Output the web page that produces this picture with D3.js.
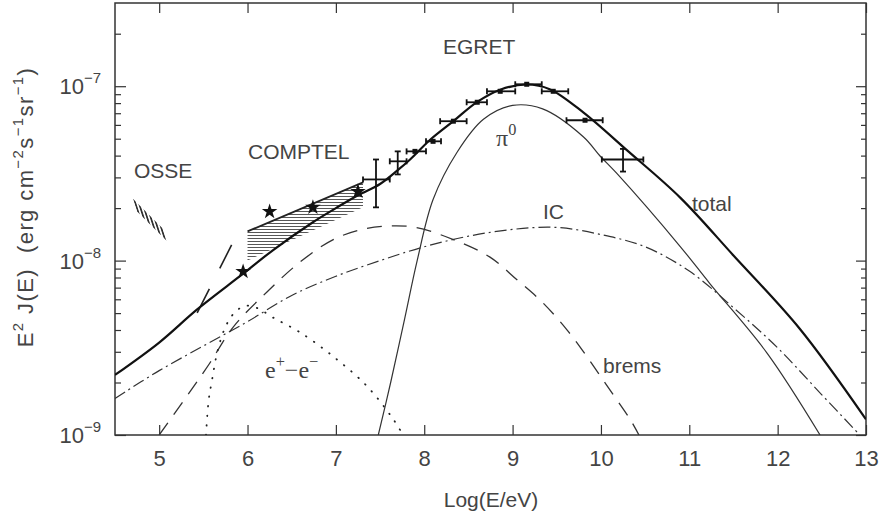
<!DOCTYPE html>
<html>
<head>
<meta charset="utf-8">
<script src="https://cdn.jsdelivr.net/npm/d3@7"></script>
<style>
body { margin: 0; background: #fff; }
svg { font-family: "Liberation Sans", Arial, sans-serif; }
.lbl { fill: #444; }
.tick text { fill: #444; }
</style>
</head>
<body>
<svg id="chart" width="882" height="520"></svg>
<script>
// model curves: [log10(E/eV), E^2 J(E)]
var totalCurve = [
  [4.5, 2.21e-9], [5.0, 3.39e-9], [5.43, 5.25e-9], [5.95, 8.41e-9], [6.29, 1.15e-8],
  [6.74, 1.66e-8], [7.0, 2.0e-8], [7.25, 2.37e-8], [7.5, 2.75e-8], [7.7, 3.3e-8],
  [7.84, 3.8e-8], [8.07, 4.95e-8], [8.33, 6.31e-8], [8.6, 8.13e-8], [8.86, 9.55e-8],
  [9.16, 1.023e-7], [9.42, 9.62e-8], [9.8, 7.08e-8], [10.3, 4.27e-8], [10.9, 2.29e-8],
  [11.5, 1.07e-8], [12.25, 4.07e-9], [13.0, 1.23e-9]
];
var pi0Curve = [
  [7.48, 1.0e-9], [7.62, 2.0e-9], [7.78, 4.68e-9], [7.92, 1.0e-8], [8.1, 2.24e-8],
  [8.37, 4.17e-8], [8.67, 6.46e-8], [9.0, 7.76e-8], [9.34, 7.41e-8], [9.8, 5.13e-8],
  [9.99, 3.98e-8], [10.18, 3.16e-8], [10.9, 1.2e-8], [11.23, 7.41e-9], [11.88, 2.95e-9],
  [12.48, 1.0e-9]
];
var icCurve = [
  [4.5, 1.62e-9], [5.0, 2.34e-9], [5.5, 3.24e-9], [6.0, 4.47e-9], [6.5, 6.31e-9],
  [7.0, 8.13e-9], [7.5, 1.0e-8], [8.0, 1.2e-8], [8.5, 1.38e-8], [9.0, 1.51e-8],
  [9.5, 1.55e-8], [10.0, 1.41e-8], [10.5, 1.2e-8], [11.0, 8.71e-9], [11.5, 5.37e-9],
  [12.0, 3.16e-9], [12.5, 1.7e-9], [12.93, 1.0e-9]
];
var bremsCurve = [
  [5.0, 1.0e-9], [5.31, 1.66e-9], [5.57, 2.57e-9], [5.84, 4.17e-9], [6.22, 6.61e-9],
  [6.59, 9.77e-9], [6.97, 1.32e-8], [7.3, 1.51e-8], [7.6, 1.58e-8], [7.9, 1.55e-8],
  [8.33, 1.32e-8], [8.74, 1.05e-8], [9.05, 7.76e-9], [9.34, 5.75e-9], [9.62, 3.98e-9],
  [9.84, 2.82e-9], [10.07, 1.91e-9], [10.33, 1.23e-9], [10.43, 1.0e-9]
];
var pairCurve = [
  [5.53, 1.0e-9], [5.56, 1.58e-9], [5.6, 2.09e-9], [5.66, 3.02e-9], [5.75, 4.17e-9],
  [5.85, 5.01e-9], [5.97, 5.5e-9], [6.1, 5.37e-9], [6.3, 4.68e-9], [6.59, 3.89e-9],
  [6.97, 2.82e-9], [7.35, 1.91e-9], [7.65, 1.23e-9], [7.76, 1.0e-9]
];
var longDash = [[5.43, 5.01e-9], [5.82, 1.23e-8]];

// instrument bands
var comptelUpper = [[6.0, 1.47e-8], [7.307, 2.81e-8]];
var comptelLower = [[6.0, 1.0e-8], [7.307, 2.02e-8]];
var osseUpper = [[4.70, 2.27e-8], [5.04, 1.53e-8]];
var osseLower = [[4.75, 1.91e-8], [5.09, 1.29e-8]];

// star points
var starE = [5.95, 6.25, 6.74, 7.25];
var starF = [8.65e-9, 1.91e-8, 2.02e-8, 2.49e-8];

// EGRET points
var egretE   = [7.454, 7.70, 7.895, 8.10, 8.33, 8.60, 8.86, 9.16, 9.46, 9.82, 10.25];
var egretELo = [7.307, 7.61, 7.80, 8.02, 8.18, 8.48, 8.71, 9.03, 9.33, 9.61, 10.01];
var egretEHi = [7.61, 7.80, 8.02, 8.19, 8.48, 8.71, 9.03, 9.33, 9.63, 10.02, 10.48];
var egretF   = [2.92e-8, 3.71e-8, 4.23e-8, 4.83e-8, 6.30e-8, 8.09e-8, 9.35e-8, 1.026e-7, 9.35e-8, 6.38e-8, 3.80e-8];
var egretFLo = [2.02e-8, 3.12e-8, null, null, null, null, null, null, null, null, 3.24e-8];
var egretFHi = [3.80e-8, 4.23e-8, null, null, null, null, null, null, null, null, 4.37e-8];

var xTicks = [5, 6, 7, 8, 9, 10, 11, 12, 13];
var yMajor = [1e-9, 1e-8, 1e-7];
var yExp = ["\u22129", "\u22128", "\u22127"];

var margin = {top: 3, right: 16, bottom: 85, left: 115};
var width = 882 - margin.left - margin.right;
var height = 520 - margin.top - margin.bottom;

var svg = d3.select("#chart");
var g = svg.append("g")
    .attr("transform", "translate(" + margin.left + "," + margin.top + ")");

var x = d3.scaleLinear().domain([4.5, 13]).range([0, width]);
var y = d3.scaleLog().domain([1e-9, 3e-7]).range([height, 0]);

var yMinor = [];
[1e-9, 1e-8, 1e-7].forEach(function(p) {
  for (var k = 2; k <= 9; k++) if (k * p < 3e-7) yMinor.push(k * p);
});

var defs = svg.append("defs");
defs.append("clipPath").attr("id", "plotclip")
  .append("rect").attr("width", width).attr("height", height);
var hp = defs.append("pattern").attr("id", "hatchH")
    .attr("patternUnits", "userSpaceOnUse").attr("width", 6).attr("height", 3);
hp.append("line").attr("x1", 0).attr("x2", 6).attr("y1", 1.5).attr("y2", 1.5)
    .attr("stroke", "#444").attr("stroke-width", 0.9);
var vp = defs.append("pattern").attr("id", "hatchV")
    .attr("patternUnits", "userSpaceOnUse").attr("width", 3.4).attr("height", 6)
    .attr("patternTransform", "rotate(-18)");
vp.append("line").attr("x1", 1.7).attr("x2", 1.7).attr("y1", 0).attr("y2", 6)
    .attr("stroke", "#222").attr("stroke-width", 1.6);

// axes (ticks inside the frame)
function noLabels(a) { return a.tickFormat(""); }
g.append("g").attr("class", "axis")
  .attr("transform", "translate(0," + height + ")")
  .call(d3.axisBottom(x).tickValues(xTicks).tickSizeInner(-10).tickSizeOuter(0).tickPadding(15)
        .tickFormat(d3.format("d")))
  .call(function(s) {
    s.selectAll("text").attr("font-size", 22).attr("font-family", "Liberation Sans, Arial, sans-serif");
  });
g.append("g").call(noLabels(d3.axisTop(x).tickValues(xTicks).tickSizeInner(-10).tickSizeOuter(0)));
g.append("g").call(noLabels(d3.axisLeft(y).tickValues(yMajor).tickSizeInner(-11).tickSizeOuter(0)));
g.append("g").call(noLabels(d3.axisLeft(y).tickValues(yMinor).tickSizeInner(-6).tickSizeOuter(0)));
g.append("g").attr("transform", "translate(" + width + ",0)")
  .call(noLabels(d3.axisRight(y).tickValues(yMajor).tickSizeInner(-10).tickSizeOuter(0)));
g.append("g").attr("transform", "translate(" + width + ",0)")
  .call(noLabels(d3.axisRight(y).tickValues(yMinor).tickSizeInner(-5).tickSizeOuter(0)));
g.selectAll(".domain").remove();
g.selectAll(".tick line").attr("stroke", "#333").attr("stroke-width", 1.2);

// y tick labels with exponents
yMajor.forEach(function(v, i) {
  var t = g.append("text").attr("class", "lbl")
      .attr("x", -14).attr("y", y(v) + 8)
      .attr("text-anchor", "end").style("font-size", "22px");
  t.append("tspan").text("10");
  t.append("tspan").attr("dy", -11).style("font-size", "15px").text(yExp[i]);
});

// frame
g.append("rect").attr("width", width).attr("height", height)
  .attr("fill", "none").attr("stroke", "#333").attr("stroke-width", 1.5);

var plot = g.append("g").attr("clip-path", "url(#plotclip)");

// bands
function band(upper, lower) {
  var pts = upper.concat(lower.slice().reverse());
  return pts.map(function(d) { return [x(d[0]), y(d[1])]; });
}
plot.append("polygon")
  .attr("points", band(comptelUpper, comptelLower).join(" "))
  .attr("fill", "url(#hatchH)");
plot.append("polygon")
  .attr("points", band(osseUpper, osseLower).join(" "))
  .attr("fill", "url(#hatchV)");

var line = d3.line()
  .x(function(d) { return x(d[0]); })
  .y(function(d) { return y(d[1]); })
  .curve(d3.curveCatmullRom.alpha(0.5));

plot.append("path").datum(comptelUpper).attr("d", line)
  .attr("fill", "none").attr("stroke", "#222").attr("stroke-width", 1.8);

plot.append("path").datum(icCurve).attr("d", line)
  .attr("fill", "none").attr("stroke", "#333").attr("stroke-width", 1.2)
  .attr("stroke-dasharray", "12,4,2,4");
plot.append("path").datum(bremsCurve).attr("d", line)
  .attr("fill", "none").attr("stroke", "#333").attr("stroke-width", 1.3)
  .attr("stroke-dasharray", "15,10");
plot.append("path").datum(pairCurve).attr("d", line)
  .attr("fill", "none").attr("stroke", "#222").attr("stroke-width", 1.8)
  .attr("stroke-linecap", "round").attr("stroke-dasharray", "0.5,9");
plot.append("path").datum(longDash).attr("d", line)
  .attr("fill", "none").attr("stroke", "#222").attr("stroke-width", 1.6)
  .attr("stroke-dasharray", "27,23");
plot.append("path").datum(pi0Curve).attr("d", line)
  .attr("fill", "none").attr("stroke", "#333").attr("stroke-width", 1.2);
plot.append("path").datum(totalCurve).attr("d", line)
  .attr("fill", "none").attr("stroke", "#111").attr("stroke-width", 2.2);

// stars
plot.selectAll("path.star").data(starE).enter().append("path")
  .attr("class", "star")
  .attr("transform", function(d, i) { return "translate(" + x(d) + "," + y(starF[i]) + ")"; })
  .attr("d", d3.symbol().type(d3.symbolStar).size(75))
  .attr("fill", "#111");

// EGRET error bars
var eg = plot.append("g").attr("stroke", "#111").attr("stroke-width", 1.8).attr("fill", "#111");
egretE.forEach(function(e, i) {
  var cy = y(egretF[i]), x0 = x(egretELo[i]), x1 = x(egretEHi[i]);
  eg.append("line").attr("x1", x0).attr("x2", x1).attr("y1", cy).attr("y2", cy);
  eg.append("line").attr("x1", x0).attr("x2", x0).attr("y1", cy - 3).attr("y2", cy + 3);
  eg.append("line").attr("x1", x1).attr("x2", x1).attr("y1", cy - 3).attr("y2", cy + 3);
  if (egretFLo[i] !== null) {
    var cx = x(e), y0 = y(egretFLo[i]), y1 = y(egretFHi[i]);
    eg.append("line").attr("x1", cx).attr("x2", cx).attr("y1", y0).attr("y2", y1);
    eg.append("line").attr("x1", cx - 3).attr("x2", cx + 3).attr("y1", y0).attr("y2", y0);
    eg.append("line").attr("x1", cx - 3).attr("x2", cx + 3).attr("y1", y1).attr("y2", y1);
  } else {
    eg.append("rect").attr("x", x(e) - 2.5).attr("y", cy - 2.5)
      .attr("width", 5).attr("height", 5).attr("stroke", "none");
  }
});

// labels
function rich(parent, parts, size) {
  var t = parent.append("text").attr("class", "lbl").style("font-size", size + "px");
  var up = false;
  parts.forEach(function(p) {
    var ts = t.append("tspan").text(p[0]);
    if (p[1] !== up) ts.attr("dy", p[1] ? -0.45 * size : 0.45 * size);
    if (p[1]) ts.style("font-size", (size * 0.68) + "px");
    up = p[1];
  });
  return t;
}
function label(px, py, s) {
  return svg.append("text").attr("class", "lbl").style("font-size", "21px")
    .attr("x", px).attr("y", py).text(s);
}
label(443, 54, "EGRET");
label(248, 159, "COMPTEL");
label(134, 178, "OSSE");
label(692, 211, "total");
label(543, 219, "IC");
label(603, 373, "brems");
rich(svg, [["\u03c0", false], ["0", true]], 24)
  .attr("x", 496).attr("y", 146).style("font-family", "Liberation Serif, serif");
rich(svg, [["e", false], ["+", true], ["\u2212e", false], ["\u2212", true]], 24)
  .attr("x", 265).attr("y", 378).style("font-family", "Liberation Serif, serif");

svg.append("text").attr("class", "lbl").style("font-size", "21px")
  .attr("x", 491).attr("y", 507)
  .attr("text-anchor", "middle").text("Log(E/eV)");

rich(svg, [["E", false], ["2", true], ["\u00a0J(E)\u00a0\u00a0(erg\u00a0cm", false], ["\u22122", true],
           ["s", false], ["\u22121", true], ["sr", false], ["\u22121", true], [")", false]], 22)
  .attr("text-anchor", "middle").attr("letter-spacing", 1.4)
  .attr("transform", "translate(33,207) rotate(-90)");
</script>
</body>
</html>
